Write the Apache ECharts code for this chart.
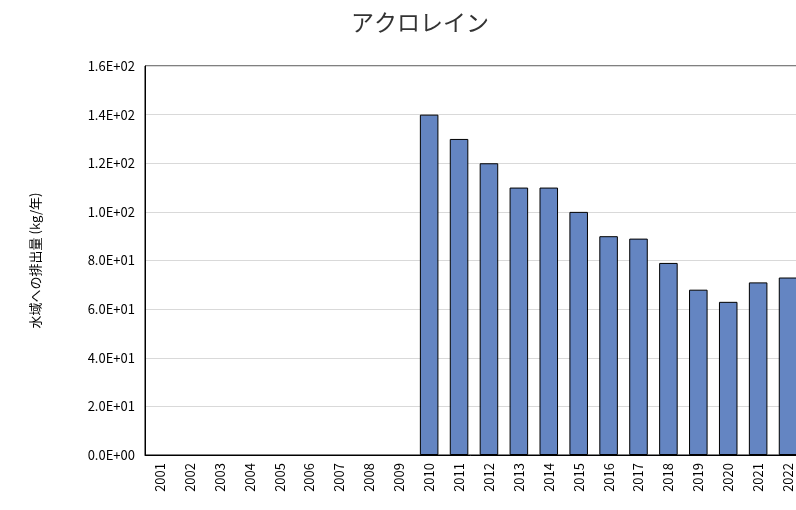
<!DOCTYPE html>
<html><head><meta charset="utf-8">
<script src="https://cdn.jsdelivr.net/npm/echarts@6/dist/echarts.min.js"></script>
<style>html,body{margin:0;padding:0;background:#fff}#container{width:796px;height:510px}</style>
</head><body><div id="container"></div>
<script>
var years = ['2001','2002','2003','2004','2005','2006','2007','2008','2009','2010','2011','2012','2013','2014','2015','2016','2017','2018','2019','2020','2021','2022'];
var values = [null,null,null,null,null,null,null,null,null,140,130,120,110,110,100,90,89,79,68,63,71,73];

function sci(v) {
    if (v === 0) return '0.0E+00';
    var e = Math.floor(Math.log10(v) + 1e-9);
    var m = v / Math.pow(10, e);
    return m.toFixed(1) + 'E' + (e < 0 ? '-' : '+') + (Math.abs(e) < 10 ? '0' : '') + Math.abs(e);
}

var myChart = echarts.init(document.getElementById('container'));
var font = '"Noto Sans CJK JP", "Noto Sans", sans-serif';
option = {
    title: {
        text: 'アクロレイン', left: 415, top: 6, textAlign: 'center',
        textStyle: {fontFamily: font, fontSize: 23, fontWeight: 'normal', color: '#333'}
    },
    grid: {left: 145, width: 658, top: 66, bottom: 55, show: true, borderColor: '#000', borderWidth: 1,
        outerBoundsMode: 'none', containLabel: false},
    xAxis: {
        type: 'category', data: years,
        axisLine: {lineStyle: {color: '#000'}},
        axisTick: {show: false},
        axisLabel: {rotate: 90, color: '#000', fontFamily: font, fontSize: 13, margin: 8}
    },
    yAxis: {
        type: 'value', min: 0, max: 160, interval: 20,
        name: '水域への排出量 (kg/年)', nameLocation: 'middle', nameGap: 103, nameRotate: 90,
        nameTextStyle: {fontFamily: font, fontSize: 13, color: '#000'},
        axisLine: {show: true, lineStyle: {color: '#000'}},
        splitLine: {lineStyle: {color: '#d9d9d9'}},
        axisLabel: {formatter: sci, color: '#000', fontFamily: font, fontSize: 13, margin: 10}
    },
    series: [{
        type: 'bar', data: values, barCategoryGap: '38%',
        itemStyle: {color: '#6485c2', borderColor: '#000', borderWidth: 1}
    }]
};
myChart.setOption(option, true);
</script></body></html>
